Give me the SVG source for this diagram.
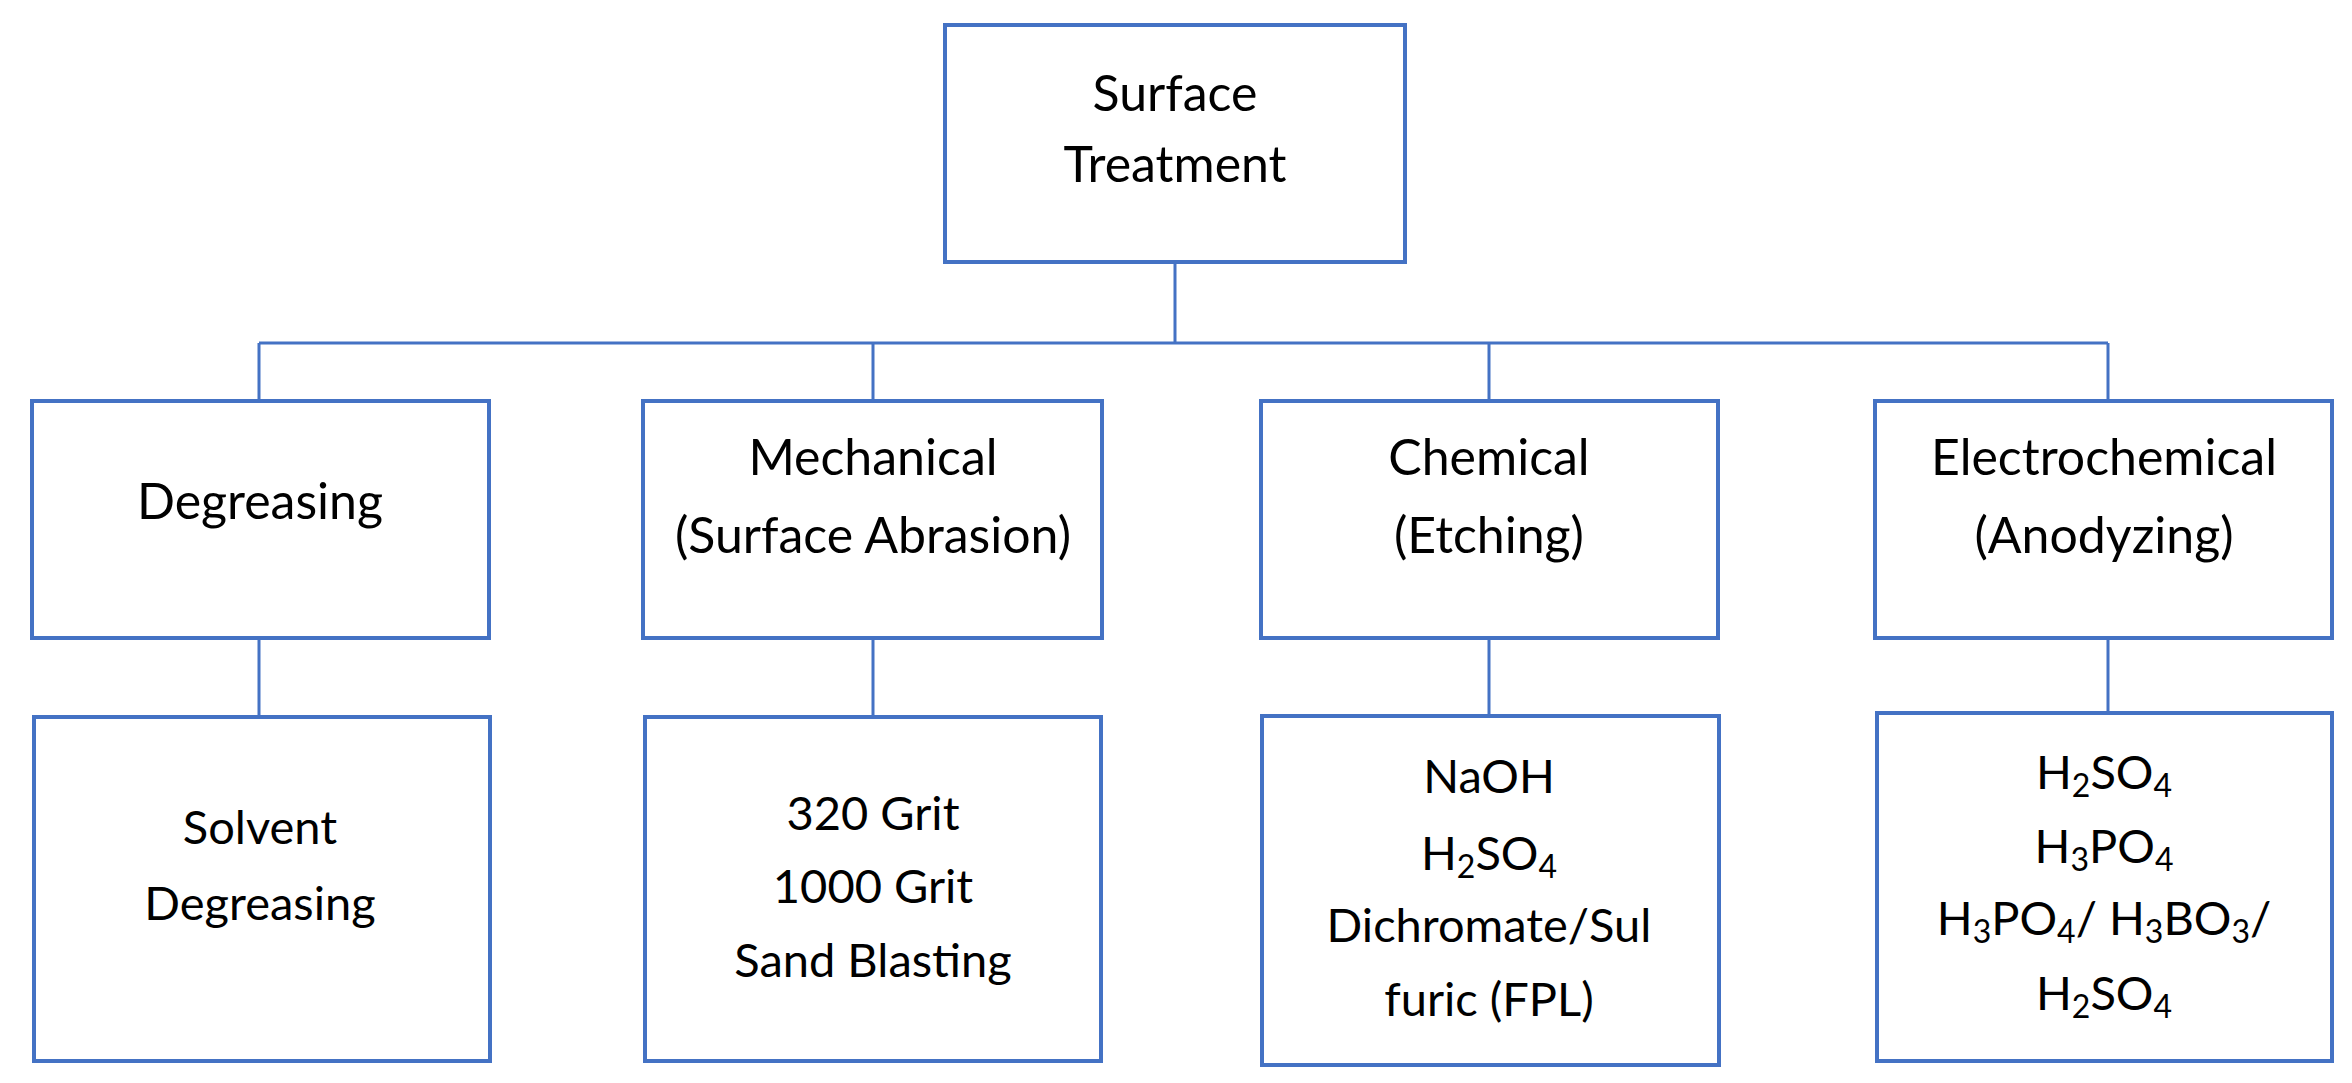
<svg xmlns="http://www.w3.org/2000/svg" width="2352" height="1083" viewBox="0 0 2352 1083">
<style>
.box{fill:#fff;stroke:#4472C4;stroke-width:4}
.ln{stroke:#4472C4;stroke-width:3;fill:none}
text{font-family:Lato,"Open Sans",sans-serif;fill:#000;text-anchor:middle}
.t{font-size:50px}
.b{font-size:47px}
.s{font-size:32px}
</style>
<rect width="2352" height="1083" fill="#fff"/>
<g id="connectors">
<path class="ln" d="M1175 262V343M259 343H2108M259 343V401M873 343V401M1489 343V401M2108 343V401M259 638V717M873 638V717M1489 638V716M2108 638V713"/>
</g>
<g id="root"><rect class="box" x="945" y="25" width="460" height="237"/>
<text class="t" x="1175" y="111">Surface</text><text class="t" x="1175" y="182">Treatment</text></g>
<g id="degreasing"><rect class="box" x="32" y="401" width="457" height="237"/>
<text class="t" x="260" y="519">Degreasing</text></g>
<g id="mechanical"><rect class="box" x="643" y="401" width="459" height="237"/>
<text class="t" x="873" y="475">Mechanical</text><text class="t" x="873" y="553">(Surface Abrasion)</text></g>
<g id="chemical"><rect class="box" x="1261" y="401" width="457" height="237"/>
<text class="t" x="1489" y="475">Chemical</text><text class="t" x="1489" y="553">(Etching)</text></g>
<g id="electrochemical"><rect class="box" x="1875" y="401" width="457" height="237"/>
<text class="t" x="2104" y="475">Electrochemical</text><text class="t" x="2104" y="553">(Anodyzing)</text></g>
<g id="solvent"><rect class="box" x="34" y="717" width="456" height="344"/>
<text class="b" x="260" y="844">Solvent</text><text class="b" x="260" y="920">Degreasing</text></g>
<g id="grit"><rect class="box" x="645" y="717" width="456" height="344"/>
<text class="b" x="873" y="830">320 Grit</text><text class="b" x="873" y="903">1000 Grit</text><text class="b" x="873" y="977">Sand Blasting</text></g>
<g id="etchants"><rect class="box" x="1262" y="716" width="457" height="349"/>
<text class="b" x="1489" y="793">NaOH</text>
<text class="b" x="1489" y="870">H<tspan class="s" dy="8">2</tspan><tspan dy="-8">SO</tspan><tspan class="s" dy="8">4</tspan></text>
<text class="b" x="1489" y="942">Dichromate/Sul</text>
<text class="b" x="1489" y="1016">furic (FPL)</text></g>
<g id="electrolytes"><rect class="box" x="1877" y="713" width="455" height="348"/>
<text class="b" x="2104" y="789">H<tspan class="s" dy="8">2</tspan><tspan dy="-8">SO</tspan><tspan class="s" dy="8">4</tspan></text>
<text class="b" x="2104" y="863">H<tspan class="s" dy="8">3</tspan><tspan dy="-8">PO</tspan><tspan class="s" dy="8">4</tspan></text>
<text class="b" x="2104" y="935">H<tspan class="s" dy="8">3</tspan><tspan dy="-8">PO</tspan><tspan class="s" dy="8">4</tspan><tspan dy="-8">/ H</tspan><tspan class="s" dy="8">3</tspan><tspan dy="-8">BO</tspan><tspan class="s" dy="8">3</tspan><tspan dy="-8">/</tspan></text>
<text class="b" x="2104" y="1010">H<tspan class="s" dy="8">2</tspan><tspan dy="-8">SO</tspan><tspan class="s" dy="8">4</tspan></text></g>
</svg>
